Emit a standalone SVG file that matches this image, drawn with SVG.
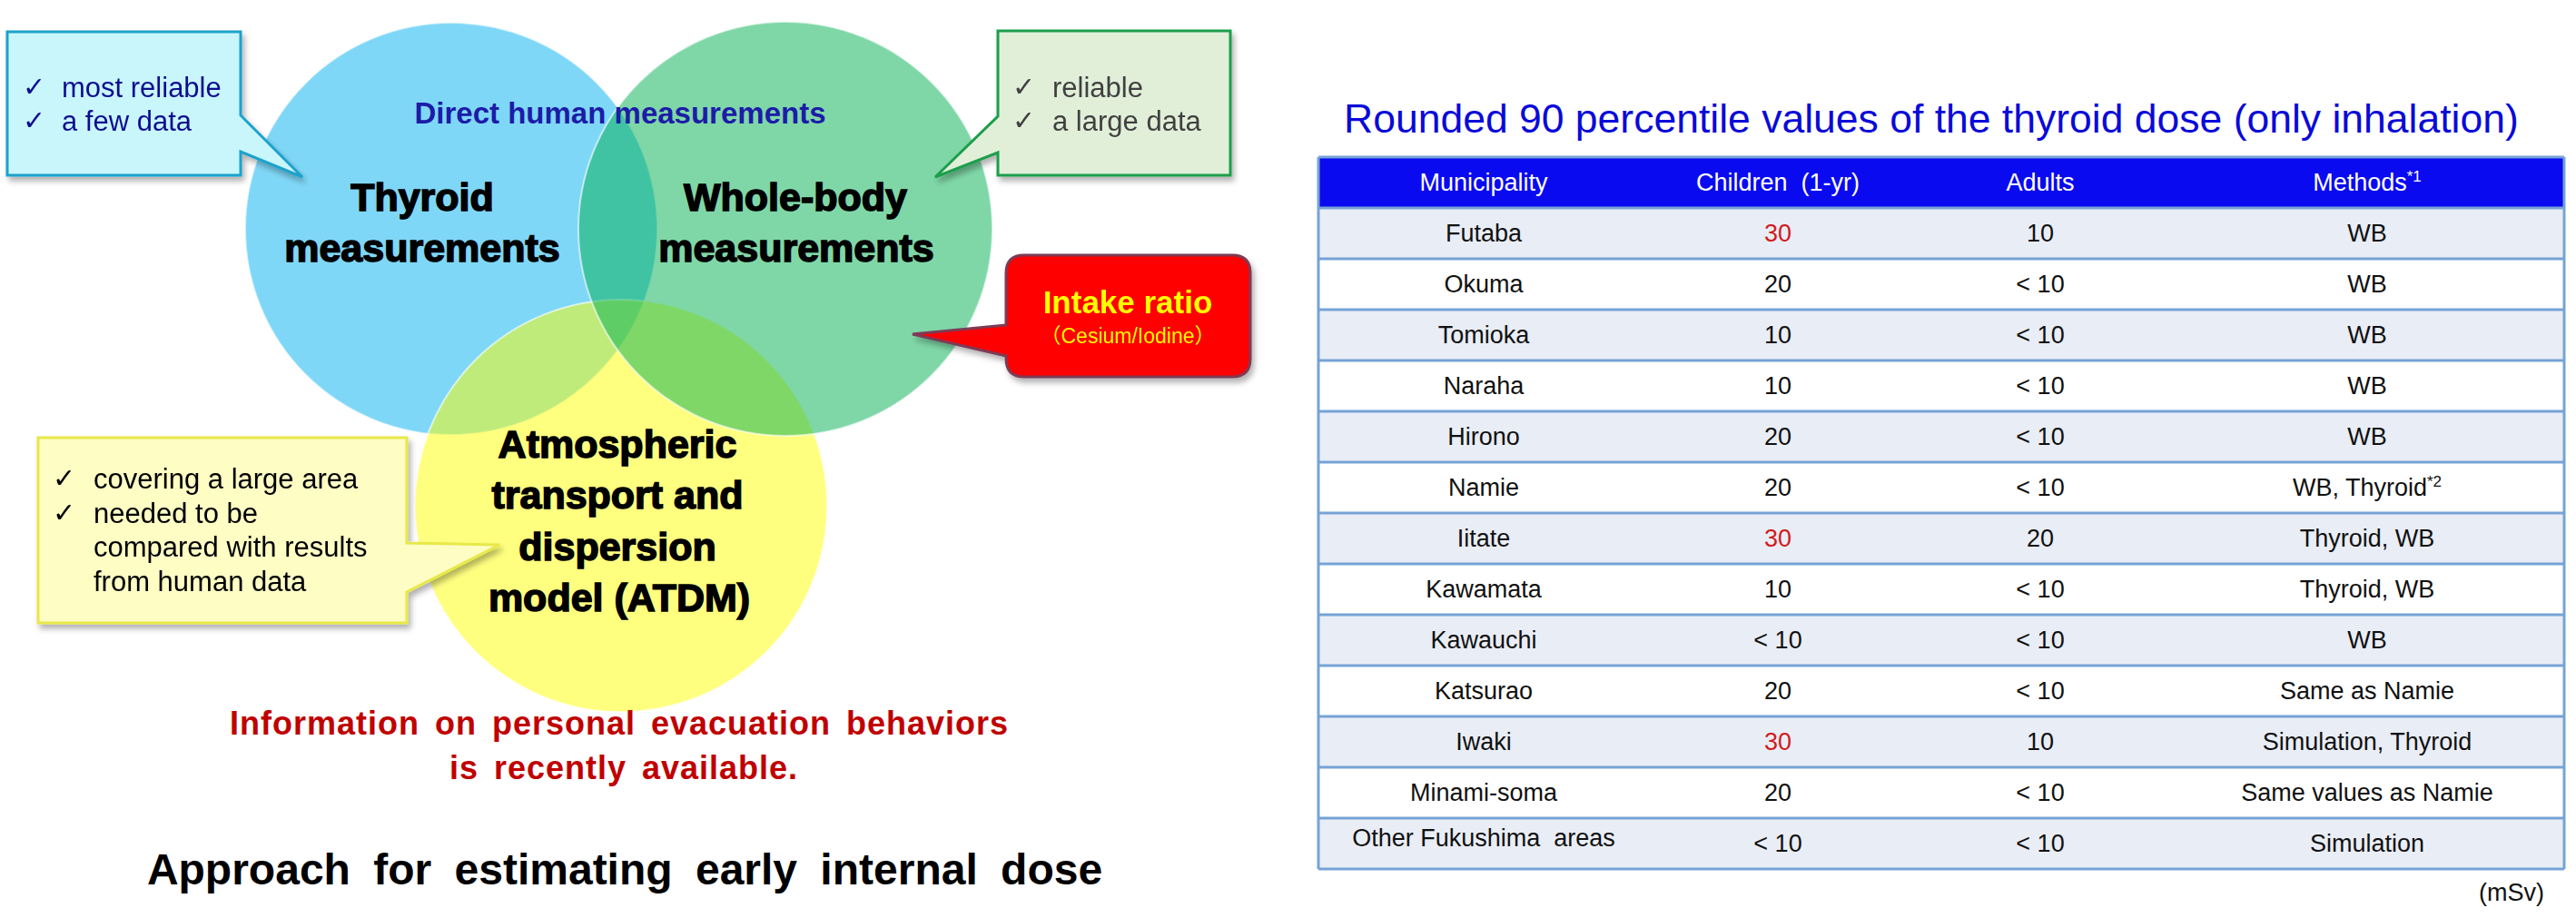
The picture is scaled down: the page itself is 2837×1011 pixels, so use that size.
<svg xmlns="http://www.w3.org/2000/svg" width="2837" height="1011" viewBox="0 0 2837 1011">
<defs>
<filter id="sh" x="-10%" y="-10%" width="130%" height="130%">
<feDropShadow dx="3" dy="5" stdDeviation="3" flood-color="#000" flood-opacity="0.3"/>
</filter>
<style>
.circ{stroke:#fff;stroke-opacity:.6;stroke-width:2}
.big{font-family:"Liberation Sans",Arial,sans-serif;font-weight:bold;font-size:43px;fill:#000;stroke:#000;stroke-width:1.5;text-anchor:middle}
.co{font-family:"Liberation Sans",Arial,sans-serif;font-size:31px}
.ck{font-family:"DejaVu Sans",sans-serif;font-size:30px}
.red{font-family:"Liberation Sans",Arial,sans-serif;font-weight:bold;font-size:36px;fill:#c00000;text-anchor:middle;letter-spacing:1px;word-spacing:6px}
.cell{font-family:"Liberation Sans",Arial,sans-serif;font-size:27px;fill:#111;text-anchor:middle}
.hd{font-family:"Liberation Sans",Arial,sans-serif;font-size:27px;fill:#fff;text-anchor:middle}
.r30{fill:#d01c1c}
.odd{fill:#e9edf6}
.even{fill:#fff}
.sep{stroke:#76a3d6;stroke-width:3}
</style>
</defs>
<rect width="2837" height="1011" fill="#fff"/>

<g id="venn">
<g id="thyroid-circle"><circle class="circ" cx="497" cy="252" r="227" fill="#00b0f0" fill-opacity="0.5"/></g>
<g id="atdm-circle"><circle class="circ" cx="684" cy="557" r="227" fill="#ffff00" fill-opacity="0.5"/></g>
<g id="wb-circle"><circle class="circ" cx="865" cy="252" r="228" fill="#00b050" fill-opacity="0.5"/></g>
</g>

<g id="labels">
<text x="683" y="136" font-family="Liberation Sans, Arial, sans-serif" font-weight="bold" font-size="33" fill="#1c1ca8" text-anchor="middle">Direct human measurements</text>
<g id="thyroid"><text class="big" x="465" y="232">Thyroid</text><text class="big" x="465" y="288">measurements</text></g>
<g id="wholebody"><text class="big" x="876" y="232">Whole-body</text><text class="big" x="877" y="288">measurements</text></g>
<g id="atdm"><text class="big" x="680" y="504">Atmospheric</text><text class="big" x="680" y="560">transport and</text><text class="big" x="680" y="617">dispersion</text><text class="big" x="682" y="673">model (ATDM)</text></g>
</g>

<g id="callout-blue" filter="url(#sh)">
<path d="M8,35 H265 V127 L333,195 L265,167 V193 H8 Z" fill="#c8f6fb" stroke="#1da2cc" stroke-width="3"/>
<text class="ck" x="25" y="106" fill="#101090">✓</text><text class="co" x="68" y="107" fill="#101090">most reliable</text>
<text class="ck" x="25" y="143" fill="#101090">✓</text><text class="co" x="68" y="144" fill="#101090">a few data</text>
</g>

<g id="callout-green" filter="url(#sh)">
<path d="M1099,34 H1355 V193 H1099 V168 L1030,195 L1099,128 Z" fill="#e1efd9" stroke="#1f9e4c" stroke-width="3"/>
<text class="ck" x="1115" y="106" fill="#404040">✓</text><text class="co" x="1159" y="107" fill="#404040">reliable</text>
<text class="ck" x="1115" y="143" fill="#404040">✓</text><text class="co" x="1159" y="144" fill="#404040">a large data</text>
</g>

<g id="callout-red" filter="url(#sh)">
<path d="M1128,281 H1357 Q1377,281 1377,301 V395 Q1377,415 1357,415 H1128 Q1108,415 1108,395 V392 L1005,368 L1108,358 V301 Q1108,281 1128,281 Z" fill="#ff0000" stroke="#7d3a55" stroke-width="3"/>
<text x="1242" y="345" font-family="Liberation Sans, Arial, sans-serif" font-weight="bold" font-size="35" fill="#ffff00" text-anchor="middle">Intake ratio</text>
<text x="1242" y="378" font-family="Liberation Sans, 'Noto Sans CJK JP', sans-serif" font-size="23" fill="#ffff00" text-anchor="middle">（Cesium/Iodine）</text>
</g>

<g id="callout-yellow" filter="url(#sh)">
<path d="M42,482 H448 V598 L550,600 L448,652 V686 H42 Z" fill="#fdfdc4" stroke="#e8e84a" stroke-width="3"/>
<text class="ck" x="58" y="537" fill="#000">✓</text><text class="co" x="103" y="538" fill="#000">covering a large area</text>
<text class="ck" x="58" y="575" fill="#000">✓</text><text class="co" x="103" y="576" fill="#000">needed to be</text>
<text class="co" x="103" y="613" fill="#000">compared with results</text>
<text class="co" x="103" y="651" fill="#000">from human data</text>
</g>

<g id="note">
<text class="red" x="682" y="809">Information on personal evacuation behaviors</text>
<text class="red" x="687" y="858">is recently available.</text>
</g>

<g id="caption">
<text x="688" y="974" font-family="Liberation Sans, Arial, sans-serif" font-weight="bold" font-size="48" fill="#000" text-anchor="middle" word-spacing="12">Approach for estimating early internal dose</text>
</g>

<g id="table">
<text x="1480" y="146" font-family="Liberation Sans, Arial, sans-serif" font-size="44.5" fill="#0a0ad8">Rounded 90 percentile values of the thyroid dose (only inhalation)</text>
<rect x="1452" y="173" width="1372" height="56" fill="#0a0af0"/>
<rect class="odd" x="1452" y="229" width="1372" height="56"/>
<rect class="even" x="1452" y="285" width="1372" height="56"/>
<rect class="odd" x="1452" y="341" width="1372" height="56"/>
<rect class="even" x="1452" y="397" width="1372" height="56"/>
<rect class="odd" x="1452" y="453" width="1372" height="56"/>
<rect class="even" x="1452" y="509" width="1372" height="56"/>
<rect class="odd" x="1452" y="565" width="1372" height="56"/>
<rect class="even" x="1452" y="621" width="1372" height="56"/>
<rect class="odd" x="1452" y="677" width="1372" height="56"/>
<rect class="even" x="1452" y="733" width="1372" height="56"/>
<rect class="odd" x="1452" y="789" width="1372" height="56"/>
<rect class="even" x="1452" y="845" width="1372" height="56"/>
<rect class="odd" x="1452" y="901" width="1372" height="56"/>
<g class="sep">
<line x1="1452" y1="173" x2="2824" y2="173"/>
<line x1="1452" y1="229" x2="2824" y2="229"/>
<line x1="1452" y1="285" x2="2824" y2="285"/>
<line x1="1452" y1="341" x2="2824" y2="341"/>
<line x1="1452" y1="397" x2="2824" y2="397"/>
<line x1="1452" y1="453" x2="2824" y2="453"/>
<line x1="1452" y1="509" x2="2824" y2="509"/>
<line x1="1452" y1="565" x2="2824" y2="565"/>
<line x1="1452" y1="621" x2="2824" y2="621"/>
<line x1="1452" y1="677" x2="2824" y2="677"/>
<line x1="1452" y1="733" x2="2824" y2="733"/>
<line x1="1452" y1="789" x2="2824" y2="789"/>
<line x1="1452" y1="845" x2="2824" y2="845"/>
<line x1="1452" y1="901" x2="2824" y2="901"/>
<line x1="1452" y1="957" x2="2824" y2="957"/>
<line x1="1452" y1="173" x2="1452" y2="957"/>
<line x1="2824" y1="173" x2="2824" y2="957"/>
</g>
<text class="hd" x="1634" y="210">Municipality</text>
<text class="hd" x="1958" y="210" xml:space="preserve">Children  (1-yr)</text>
<text class="hd" x="2247" y="210">Adults</text>
<text class="hd" x="2607" y="210">Methods<tspan font-size="17" dy="-10">*1</tspan></text>

<text class="cell" x="1634" y="266">Futaba</text><text class="cell r30" x="1958" y="266">30</text><text class="cell" x="2247" y="266">10</text><text class="cell" x="2607" y="266">WB</text>
<text class="cell" x="1634" y="322">Okuma</text><text class="cell" x="1958" y="322">20</text><text class="cell" x="2247" y="322">&lt; 10</text><text class="cell" x="2607" y="322">WB</text>
<text class="cell" x="1634" y="378">Tomioka</text><text class="cell" x="1958" y="378">10</text><text class="cell" x="2247" y="378">&lt; 10</text><text class="cell" x="2607" y="378">WB</text>
<text class="cell" x="1634" y="434">Naraha</text><text class="cell" x="1958" y="434">10</text><text class="cell" x="2247" y="434">&lt; 10</text><text class="cell" x="2607" y="434">WB</text>
<text class="cell" x="1634" y="490">Hirono</text><text class="cell" x="1958" y="490">20</text><text class="cell" x="2247" y="490">&lt; 10</text><text class="cell" x="2607" y="490">WB</text>
<text class="cell" x="1634" y="546">Namie</text><text class="cell" x="1958" y="546">20</text><text class="cell" x="2247" y="546">&lt; 10</text><text class="cell" x="2607" y="546">WB, Thyroid<tspan font-size="17" dy="-10">*2</tspan></text>
<text class="cell" x="1634" y="602">Iitate</text><text class="cell r30" x="1958" y="602">30</text><text class="cell" x="2247" y="602">20</text><text class="cell" x="2607" y="602">Thyroid, WB</text>
<text class="cell" x="1634" y="658">Kawamata</text><text class="cell" x="1958" y="658">10</text><text class="cell" x="2247" y="658">&lt; 10</text><text class="cell" x="2607" y="658">Thyroid, WB</text>
<text class="cell" x="1634" y="714">Kawauchi</text><text class="cell" x="1958" y="714">&lt; 10</text><text class="cell" x="2247" y="714">&lt; 10</text><text class="cell" x="2607" y="714">WB</text>
<text class="cell" x="1634" y="770">Katsurao</text><text class="cell" x="1958" y="770">20</text><text class="cell" x="2247" y="770">&lt; 10</text><text class="cell" x="2607" y="770">Same as Namie</text>
<text class="cell" x="1634" y="826">Iwaki</text><text class="cell r30" x="1958" y="826">30</text><text class="cell" x="2247" y="826">10</text><text class="cell" x="2607" y="826">Simulation, Thyroid</text>
<text class="cell" x="1634" y="882">Minami-soma</text><text class="cell" x="1958" y="882">20</text><text class="cell" x="2247" y="882">&lt; 10</text><text class="cell" x="2607" y="882">Same values as Namie</text>
<text class="cell" x="1634" y="932" font-size="24" xml:space="preserve">Other Fukushima  areas</text><text class="cell" x="1958" y="938">&lt; 10</text><text class="cell" x="2247" y="938">&lt; 10</text><text class="cell" x="2607" y="938">Simulation</text>
<text x="2802" y="992" font-family="Liberation Sans, Arial, sans-serif" font-size="27" fill="#111" text-anchor="end">(mSv)</text>
</g>
</svg>
